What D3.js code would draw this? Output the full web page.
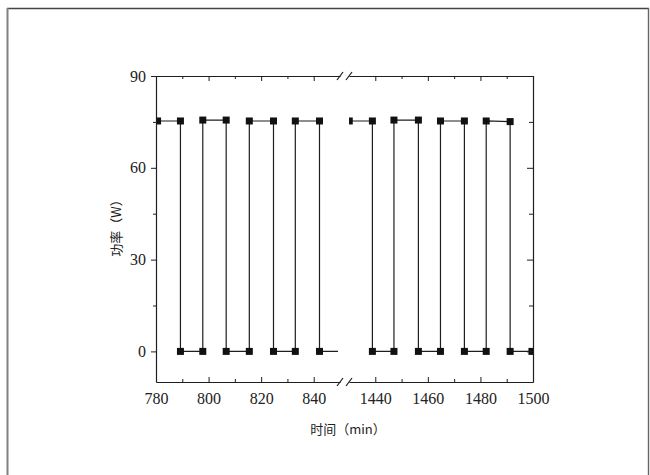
<!DOCTYPE html>
<html><head><meta charset="utf-8">
<script src="https://cdn.jsdelivr.net/npm/d3@7"></script>
<style>
html,body{margin:0;padding:0;background:#fff;}
svg{display:block;}
.num{font-family:"Liberation Serif","DejaVu Serif",serif;}
</style></head>
<body>
<svg id="c" width="650" height="475"></svg>
<script>
// ---- data ----
const leftTimes  = [780.6, 789.3, 789.3, 797.8, 797.8, 806.7, 806.7, 815.5, 815.5, 824.7, 824.7, 833.0, 833.0, 842.2, 842.2, 851.5];
const leftPower  = [75.3, 75.3, 0, 0, 75.6, 75.6, 0, 0, 75.3, 75.3, 0, 0, 75.3, 75.3, 0, 0];
const rightTimes = [1430.1, 1438.9, 1438.9, 1447.1, 1447.1, 1456.4, 1456.4, 1464.8, 1464.8, 1473.9, 1473.9, 1482.2, 1482.2, 1491.3, 1491.3, 1499.6];
const rightPower = [75.3, 75.3, 0, 0, 75.6, 75.6, 0, 0, 75.3, 75.3, 0, 0, 75.3, 75.1, 0, 0];
const leftMajor  = [780, 800, 820, 840];
const leftMinor  = [790, 810, 830];
const rightMajor = [1440, 1460, 1480, 1500];
const rightMinor = [1450, 1470, 1490];
const yMajor = [0, 30, 60, 90];
const yMinor = [15, 45, 75];
const xTitle = "时间（min）";
const yTitle = "功率（W）";

// ---- layout ----
const svg = d3.select("#c");
const L = 156, R = 533, T = 76, B = 382, gapL = 340, gapR = 349;
const xL = d3.scaleLinear().domain([780, 850]).range([L, gapL]);
const xRt = d3.scaleLinear().domain([1430, 1500]).range([gapR, R]);
const y = d3.scaleLinear().domain([-10, 90]).range([B, T]);
const ink = "#1e1e1e";
const cjkFont = "'Noto Sans CJK SC','Noto Sans',sans-serif";

// outer frame
svg.append("line").attr("x1",7).attr("x2",649).attr("y1",8.5).attr("y2",8.5).attr("stroke","#444").attr("stroke-width",1.4);
svg.append("line").attr("x1",7.5).attr("x2",7.5).attr("y1",8).attr("y2",475).attr("stroke","#808080").attr("stroke-width",2);
svg.append("line").attr("x1",648.5).attr("x2",648.5).attr("y1",8).attr("y2",475).attr("stroke","#666").attr("stroke-width",1.4);

const defs = svg.append("defs");
defs.append("clipPath").attr("id","clipL").append("rect").attr("x",L).attr("y",T-10).attr("width",gapL-L-2).attr("height",B-T+20);
defs.append("clipPath").attr("id","clipR").append("rect").attr("x",gapR).attr("y",T-10).attr("width",R-gapR).attr("height",B-T+20);

function panel(times, power, xs, clipId){
  const pts = times.map((t,i)=>[t, power[i]]);
  const g = svg.append("g").attr("clip-path",`url(#${clipId})`);
  const line = d3.line().x(d=>xs(d[0])).y(d=>y(d[1]));
  g.append("path").datum(pts).attr("d",line).attr("fill","none").attr("stroke",ink).attr("stroke-width",1.2);
  const s = 7;
  g.selectAll("rect.m").data(pts).enter().append("rect")
    .attr("x",d=>xs(d[0])-s/2).attr("y",d=>y(d[1])-s/2)
    .attr("width",s).attr("height",s).attr("fill","#111");
}
panel(leftTimes, leftPower, xL, "clipL");
panel(rightTimes, rightPower, xRt, "clipR");

// axes helpers
function styleAxis(g){
  g.attr("font-family",null);
  g.selectAll(".domain").attr("stroke",ink).attr("stroke-width",1.2);
  g.selectAll(".tick line").attr("stroke",ink).attr("stroke-width",1);
  g.selectAll("text").attr("class","num").attr("fill","#222")
    .style("font-family",'"Liberation Serif","DejaVu Serif",serif').style("font-size","16px");
}
// bottom
[[xL,leftMajor,leftMinor],[xRt,rightMajor,rightMinor]].forEach(([xs,maj,mi])=>{
  const gb = svg.append("g").attr("transform",`translate(0,${B})`)
    .call(d3.axisBottom(xs).tickValues(maj).tickFormat(d3.format("d")).tickSizeInner(-5).tickSizeOuter(0).tickPadding(11));
  styleAxis(gb);
  const gbm = svg.append("g").attr("transform",`translate(0,${B})`)
    .call(d3.axisBottom(xs).tickValues(mi).tickFormat("").tickSizeInner(-3).tickSizeOuter(0));
  styleAxis(gbm); gbm.select(".domain").remove();
  const gt = svg.append("g").attr("transform",`translate(0,${T})`)
    .call(d3.axisTop(xs).tickValues(maj).tickFormat("").tickSizeInner(-5).tickSizeOuter(0));
  styleAxis(gt);
  const gtm = svg.append("g").attr("transform",`translate(0,${T})`)
    .call(d3.axisTop(xs).tickValues(mi).tickFormat("").tickSizeInner(-3).tickSizeOuter(0));
  styleAxis(gtm); gtm.select(".domain").remove();
});
// left
const gl = svg.append("g").attr("transform",`translate(${L},0)`)
  .call(d3.axisLeft(y).tickValues(yMajor).tickFormat(d3.format("d")).tickSizeInner(5).tickSizeOuter(0).tickPadding(5));
styleAxis(gl);
const glm = svg.append("g").attr("transform",`translate(${L},0)`)
  .call(d3.axisLeft(y).tickValues(yMinor).tickFormat("").tickSizeInner(3).tickSizeOuter(0));
styleAxis(glm); glm.select(".domain").remove();
// right
const gr = svg.append("g").attr("transform",`translate(${R},0)`)
  .call(d3.axisRight(y).tickValues(yMajor).tickFormat("").tickSizeInner(-6).tickSizeOuter(0));
styleAxis(gr);
const grm = svg.append("g").attr("transform",`translate(${R},0)`)
  .call(d3.axisRight(y).tickValues(yMinor).tickFormat("").tickSizeInner(-4).tickSizeOuter(0));
styleAxis(grm); grm.select(".domain").remove();

// break marks
[T,B].forEach(yy=>{
  [gapL, gapR].forEach(xx=>{
    svg.append("line").attr("x1",xx-3).attr("y1",yy+4).attr("x2",xx+3).attr("y2",yy-4)
      .attr("stroke",ink).attr("stroke-width",1.2);
  });
});

// titles
svg.append("text").attr("x",348).attr("y",429).attr("dy","0.35em").attr("text-anchor","middle")
  .attr("font-family",cjkFont).attr("font-size",13).attr("fill","#222").text(xTitle);
svg.append("text").attr("transform","translate(116,225) rotate(-90)").attr("dy","0.35em").attr("text-anchor","middle")
  .attr("font-family",cjkFont).attr("font-size",13).attr("fill","#222").text(yTitle);
</script>
</body></html>
